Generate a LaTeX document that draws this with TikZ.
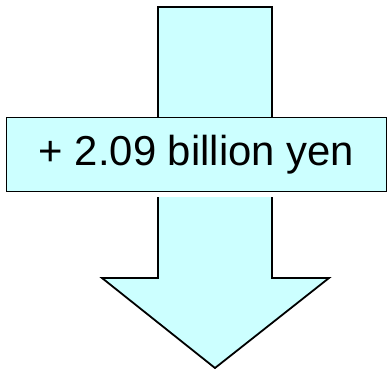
\documentclass[tikz,border=0pt]{standalone}
\usepackage{fontspec}
\setmainfont{Liberation Sans}
\usetikzlibrary{positioning}
\definecolor{paleCyan}{HTML}{CCFFFF}

\begin{document}
\begin{tikzpicture}[
  x=1bp, y=-1bp,
  outline/.style={draw=black, line width=1.8bp, fill=paleCyan, line join=miter},
  amountbox/.style={outline, rectangle, inner sep=0pt, minimum width=380bp, minimum height=74bp,
    font=\fontsize{42}{50}\selectfont}
]
  \useasboundingbox (0,0) rectangle (388,369);
  % Big downward arrow
  \draw[outline] (158,7) -- (272,7) -- (272,278) -- (329,278) -- (215,368)
                 -- (102,278) -- (158,278) -- cycle;
  % White gap below the label box
  \fill[white] (150,190) rectangle (280,197);
  % Label box across the shaft
  \node[amountbox] (amount) at (196.5,154.5) {+ 2.09 billion yen};
\end{tikzpicture}
\end{document}
